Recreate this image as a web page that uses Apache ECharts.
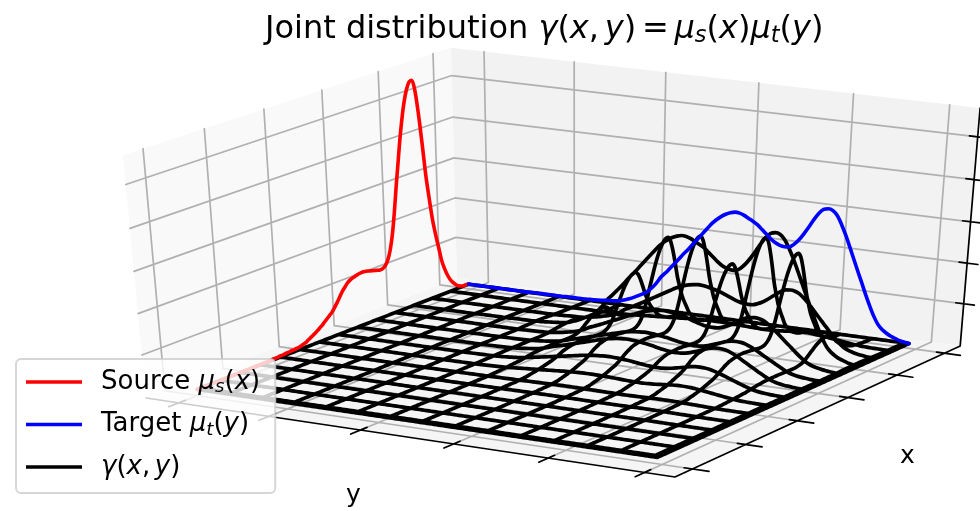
<!DOCTYPE html>
<html>
<head>
<meta charset="utf-8">
<style>html,body{margin:0;padding:0;background:#fff}#chart{width:980px;height:511px}</style>
<script src="https://cdn.jsdelivr.net/npm/echarts@6/dist/echarts.min.js"></script>
</head>
<body>
<div id="chart"></div>
<script>
// one value per bin, 0..99
const sourceMu = [
  0, 0, 0, 0, 0, 0, 0, 0, 0, 0, 0, 0, 0, 0, 0, 0, 0, 0, 0, 0,
  0.0001, 0.0001, 0.0001, 0.0001, 0.0001, 0.0001, 0.0002, 0.0002, 0.0002, 0.0003, 0.0003, 0.0004, 0.0004, 0.0005, 0.0005, 0.0006, 0.0007, 0.0009, 0.0011, 0.0015,
  0.0019, 0.0023, 0.0027, 0.0032, 0.0037, 0.0043, 0.0049, 0.0055, 0.0061, 0.007, 0.008, 0.0091, 0.0102, 0.011, 0.0118, 0.0123, 0.0126, 0.0128, 0.013, 0.0131,
  0.0131, 0.013, 0.0128, 0.0126, 0.0124, 0.0122, 0.012, 0.0121, 0.0126, 0.0138, 0.016, 0.0195, 0.0245, 0.0305, 0.036, 0.0415, 0.0462, 0.05, 0.0527, 0.0543,
  0.0545, 0.052, 0.0463, 0.039, 0.031, 0.025, 0.0195, 0.0155, 0.012, 0.0085, 0.0062, 0.0044, 0.003, 0.002, 0.0012, 0.0006, 0.0003, 0.0001, 0.0001, 0
]
const targetMu = [
  0, 0, 0, 0, 0, 0, 0, 0, 0, 0, 0, 0, 0, 0, 0, 0.0001, 0.0001, 0.0001, 0.0001, 0.0001,
  0.0001, 0.0001, 0.0001, 0.0002, 0.0002, 0.0002, 0.0002, 0.0002, 0.0003, 0.0003, 0.0004, 0.0005, 0.0006, 0.0007, 0.0008, 0.001, 0.0014, 0.0018, 0.0023, 0.0029,
  0.0035, 0.0042, 0.0053, 0.0066, 0.0083, 0.0095, 0.0108, 0.0121, 0.0135, 0.0149, 0.0162, 0.0176, 0.019, 0.0204, 0.0218, 0.0232, 0.0243, 0.0252, 0.0259, 0.0264,
  0.0267, 0.0266, 0.0262, 0.0256, 0.025, 0.0243, 0.0233, 0.0223, 0.0213, 0.0205, 0.02, 0.0198, 0.0199, 0.0207, 0.0219, 0.0235, 0.0253, 0.0272, 0.0289, 0.03,
  0.0303, 0.03, 0.0289, 0.0269, 0.0245, 0.0218, 0.019, 0.0162, 0.0135, 0.0107, 0.0081, 0.0057, 0.0038, 0.0026, 0.0018, 0.0012, 0.0008, 0.0004, 0.0002, 0
]
const xTicks = [0, 20, 40, 60, 80, 100]
const yTicks = [0, 20, 40, 60, 80, 100]
const zTicks = [0.009, 0.019, 0.029, 0.039, 0.049]
const gammaScale = 18.6
const stride = 7

// perspective camera of the 3d box: vanishing points and weights of x, y, z
const cam = {
  o: [146, 398],
  x: { v: [4475, -1269], w: 0.0774 },
  y: { v: [-10757, -1230], w: -0.04627 },
  z: { v: [576, 4936], w: -0.0508 }
}

function project (bx, by, bz) {
  const d = 1 + cam.x.w * bx + cam.y.w * by + cam.z.w * bz
  return [0, 1].map(k => (cam.o[k] + cam.x.w * cam.x.v[k] * bx + cam.y.w * cam.y.v[k] * by + cam.z.w * cam.z.v[k] * bz) / d)
}

// data units -> unit box
const boxX = t => 0.0567 + 0.00884 * t
const boxY = t => 0.065 + 0.0088 * t
const boxZ = v => 0.027 + 17.5 * v
const point = (i, j, v) => project(boxX(i), boxY(j), boxZ(v))

const GAP = ['-', '-']
const lastBin = sourceMu.length - 1

function segments (list) {
  const out = []
  list.forEach(seg => {
    out.push(project(...seg[0]), project(...seg[1]), GAP)
  })
  return out
}

const gridSegs = []
xTicks.forEach(t => {
  gridSegs.push([[boxX(t), 0, 0], [boxX(t), 0, 1]])
  gridSegs.push([[boxX(t), 0, 0], [boxX(t), 1, 0]])
})
yTicks.forEach(t => {
  gridSegs.push([[1, boxY(t), 0], [1, boxY(t), 1]])
  gridSegs.push([[0, boxY(t), 0], [1, boxY(t), 0]])
})
zTicks.forEach(v => {
  gridSegs.push([[0, 0, boxZ(v)], [1, 0, boxZ(v)]])
  gridSegs.push([[1, 0, boxZ(v)], [1, 1, boxZ(v)]])
})

const axisSegs = [
  [[0, 0, 0], [0, 1, 0]],
  [[0, 1, 0], [1, 1, 0]],
  [[1, 1, 0], [1, 1, 1]]
]
xTicks.forEach(t => axisSegs.push([[boxX(t), 0.985, 0], [boxX(t), 1.03, 0]]))
yTicks.forEach(t => axisSegs.push([[-0.03, boxY(t), 0], [0.02, boxY(t), 0]]))
zTicks.forEach(v => axisSegs.push([[1, 0.985, boxZ(v)], [1, 1.02, boxZ(v)]]))

const panes = [
  { color: '#f9f9f9', corners: [[0, 0, 0], [1, 0, 0], [1, 0, 1], [0, 0, 1]] },
  { color: '#f2f2f2', corners: [[1, 0, 0], [1, 1, 0], [1, 1, 1], [1, 0, 1]] },
  { color: '#f5f5f5', corners: [[0, 0, 0], [1, 0, 0], [1, 1, 0], [0, 1, 0]] }
]

// wireframe: every 7th bin plus the closing one; x rows are counted from the far end
const yRows = []
for (let j = 0; j <= lastBin; j += stride) yRows.push(j)
yRows.push(lastBin)
const xRows = yRows.map(j => lastBin - j)

const gammaLine = []
yRows.forEach(j => {
  sourceMu.forEach((s, i) => gammaLine.push(point(i, j, gammaScale * s * targetMu[j])))
  gammaLine.push(GAP)
})
xRows.forEach(i => {
  targetMu.forEach((t, j) => gammaLine.push(point(i, j, gammaScale * sourceMu[i] * t)))
  gammaLine.push(GAP)
})

const sourceLine = sourceMu.map((s, i) => point(i, 0, s))
const targetLine = targetMu.map((t, j) => point(lastBin, j, t))

const lineOf = (name, data, color, width, smooth) => ({
  name,
  type: 'line',
  data,
  smooth,
  showSymbol: false,
  symbol: 'none',
  clip: false,
  silent: true,
  sampling: false,
  lineStyle: { color, width, cap: 'round', join: 'round' },
  itemStyle: { color }
})

const FONT = 'DejaVu Sans'

function mathRich (size) {
  return {
    r: { fontFamily: FONT, fontSize: size, color: '#000' },
    i: { fontFamily: FONT, fontSize: size, fontStyle: 'italic', color: '#000' },
    s: { fontFamily: FONT, fontSize: size * 0.7, fontStyle: 'italic', color: '#000', padding: [size * 0.42, 0, 0, 0] },
    t: { width: size * 0.18 }
  }
}

const SOURCE = 'Source mu_s(x)'
const TARGET = 'Target mu_t(y)'
const GAMMA = 'gamma(x,y)'
const legendTexts = {
  [SOURCE]: '{p|}{r|Source }{i|μ}{s|s}{r|(}{i|x}{r|)}',
  [TARGET]: '{p|}{r|Target }{i|μ}{s|t}{r|(}{i|y}{r|)}',
  [GAMMA]: '{p|}{i|γ}{r|(}{i|x}{r|,}{t|}{i|y}{r|)}'
}

const chart = echarts.init(document.getElementById('chart'), null, { renderer: 'canvas' })

chart.setOption({
  animation: false,
  backgroundColor: '#fff',
  title: {
    left: 265,
    top: 12,
    padding: 0,
    text: '{r|Joint distribution }{i|γ}{r|(}{i|x}{r|,}{t|}{i|y}{r|)}{t|}{r|=}{t|}{i|μ}{s|s}{r|(}{i|x}{r|)}{i|μ}{s|t}{r|(}{i|y}{r|)}',
    textStyle: { fontFamily: FONT, fontSize: 32, fontWeight: 'normal', color: '#000', rich: mathRich(32) }
  },
  grid: { left: 0, right: 0, top: 0, bottom: 0 },
  xAxis: { type: 'value', min: 0, max: 980, show: false },
  yAxis: { type: 'value', min: 0, max: 511, inverse: true, show: false },
  legend: {
    left: 16,
    top: 359,
    orient: 'vertical',
    data: [SOURCE, TARGET, GAMMA],
    icon: 'rect',
    itemWidth: 56,
    itemHeight: 3.4,
    itemGap: 12.5,
    padding: [8, 15, 11, 10],
    backgroundColor: 'rgba(255,255,255,0.8)',
    borderColor: 'rgba(204,204,204,0.8)',
    borderWidth: 2,
    borderRadius: 5,
    selectedMode: false,
    formatter: name => legendTexts[name],
    textStyle: {
      fontFamily: FONT,
      fontSize: 26,
      color: '#000',
      lineHeight: 30,
      rich: Object.assign(mathRich(26), { p: { width: 14 } })
    }
  },
  graphic: [
    { type: 'text', left: 900, top: 444, silent: true, style: { text: 'x', font: '25px "DejaVu Sans"', fill: '#000' } },
    { type: 'text', left: 346, top: 483, silent: true, style: { text: 'y', font: '25px "DejaVu Sans"', fill: '#000' } }
  ],
  series: [
    {
      type: 'custom',
      silent: true,
      clip: false,
      data: panes.map((p, i) => [i]),
      renderItem (params, api) {
        const p = panes[api.value(0)]
        return {
          type: 'polygon',
          shape: { points: p.corners.map(c => api.coord(project(...c))) },
          style: { fill: p.color }
        }
      }
    },
    lineOf('grid', segments(gridSegs), '#b0b0b0', 1.7, false),
    lineOf('axes', segments(axisSegs), '#000', 1.7, false),
    lineOf(GAMMA, gammaLine, '#000', 3.7, 0.3),
    lineOf(SOURCE, sourceLine, '#ff0000', 3.6, 0.3),
    lineOf(TARGET, targetLine, '#0000ff', 3.6, 0.3)
  ]
})
</script>
</body>
</html>
